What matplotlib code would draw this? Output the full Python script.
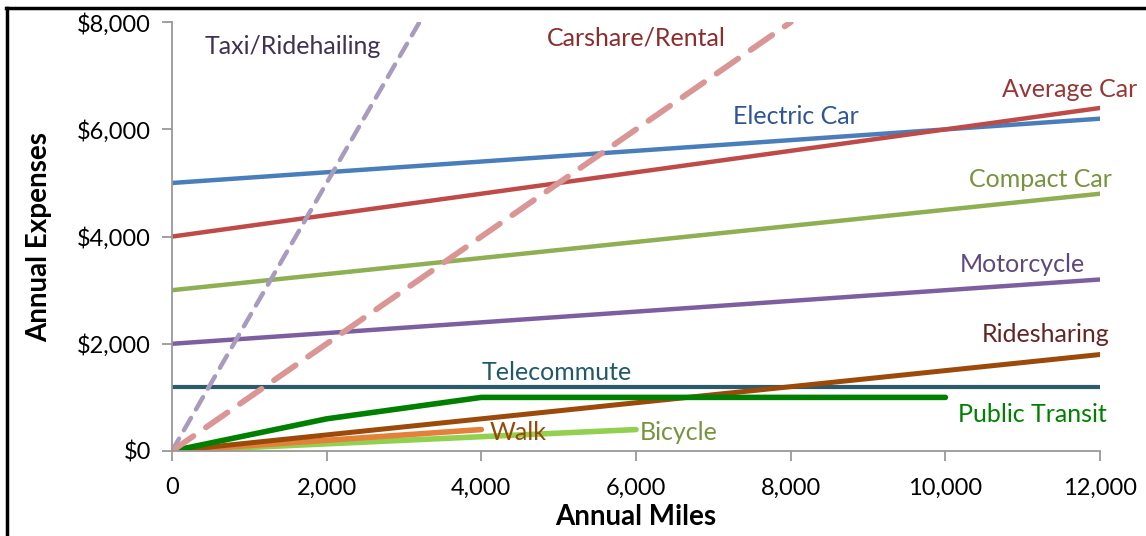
import numpy as np
import matplotlib.pyplot as plt
from matplotlib.lines import Line2D

plt.rcParams['font.family'] = ['Lato', 'DejaVu Sans']

# miles / expenses for each mode
miles_line = [0, 12000]
electric = [5000, 6200]
average = [4000, 6400]
compact = [3000, 4800]
motorcycle = [2000, 3200]
ridesharing = [0, 1800]
telecommute = [1200, 1200]
transit_miles = [0, 2000, 4000, 10000]
transit = [0, 600, 1000, 1000]
walk_miles = [0, 4000]
walk = [0, 400]
bike_miles = [0, 6000]
bike = [0, 400]
taxi_miles = [0, 3200]
taxi = [0, 8000]
carshare_miles = [0, 8000]
carshare = [0, 8000]

fig = plt.figure(figsize=(11.46, 5.36), dpi=100)
ax = fig.add_axes([0.150, 0.1586, 0.810, 0.800])

ax.plot(miles_line, telecommute, color='#2C5B6B', lw=3, solid_capstyle='round', zorder=2)
ax.plot(miles_line, electric, color='#4A7EBB', lw=3.2, solid_capstyle='round')
ax.plot(miles_line, average, color='#BE4B48', lw=3.2, solid_capstyle='round')
ax.plot(miles_line, compact, color='#8EAF52', lw=3.2, solid_capstyle='round')
ax.plot(miles_line, motorcycle, color='#7D5F9F', lw=3.2, solid_capstyle='round')
ax.plot(bike_miles, bike, color='#92D050', lw=4, solid_capstyle='round')
ax.plot(walk_miles, walk, color='#E3803A', lw=4, solid_capstyle='round')
ax.plot(miles_line, ridesharing, color='#9C4A0A', lw=3.6, solid_capstyle='round')
ax.plot(transit_miles, transit, color='#008000', lw=4, solid_capstyle='round')
ax.plot(taxi_miles, taxi, color='#A99BBD', lw=3.2, dashes=(3.2, 2.2), dash_capstyle='round')
ax.plot(carshare_miles, carshare, color='#D99694', lw=4.2, dashes=(4.5, 2.6), dash_capstyle='round')

lab = dict(fontsize=18, ha='center', va='center')
ax.text(1560, 7550, 'Taxi/Ridehailing', color='#403152', **lab)
ax.text(6010, 7700, 'Carshare/Rental', color='#8B2D2D', **lab)
ax.text(11600, 6740, 'Average Car', color='#953735', **lab)
ax.text(8070, 6240, 'Electric Car', color='#2F5597', **lab)
ax.text(11230, 5060, 'Compact Car', color='#77933C', **lab)
ax.text(11000, 3480, 'Motorcycle', color='#5F497A', **lab)
ax.text(11300, 2170, 'Ridesharing', color='#632523', **lab)
ax.text(4980, 1460, 'Telecommute', color='#215968', **lab)
ax.text(11120, 690, 'Public Transit', color='#008000', **lab)
ax.text(4480, 340, 'Walk', color='#984807', **lab)
ax.text(6550, 340, 'Bicycle', color='#77933C', **lab)

ax.set_xlim(0, 12000)
ax.set_ylim(0, 8000)
ax.set_xticks(np.arange(0, 12001, 2000))
ax.set_yticks(np.arange(0, 8001, 2000))
ax.set_xticklabels(['{:,}'.format(v) for v in range(0, 12001, 2000)])
ax.set_yticklabels(['${:,}'.format(v) for v in range(0, 8001, 2000)])
ax.tick_params(direction='out', length=7, width=1.3, color='#999999',
               labelsize=17, pad=8)
ax.tick_params(axis='x', pad=12)
for s in ['top', 'right']:
    ax.spines[s].set_visible(False)
for s in ['left', 'bottom']:
    ax.spines[s].set_color('#999999')
    ax.spines[s].set_linewidth(1.3)

ax.set_xlabel('Annual Miles', fontsize=20, fontweight='bold', labelpad=4)
ax.set_ylabel('Annual Expenses', fontsize=20, fontweight='bold', labelpad=18)

# frame around the chart
fig.add_artist(Line2D([0.005, 1.0], [0.985, 0.985], color='black', lw=2.5))
fig.add_artist(Line2D([0.006, 0.006], [0.0, 0.985], color='black', lw=2.5))

fig.savefig('out.png', dpi=100)
